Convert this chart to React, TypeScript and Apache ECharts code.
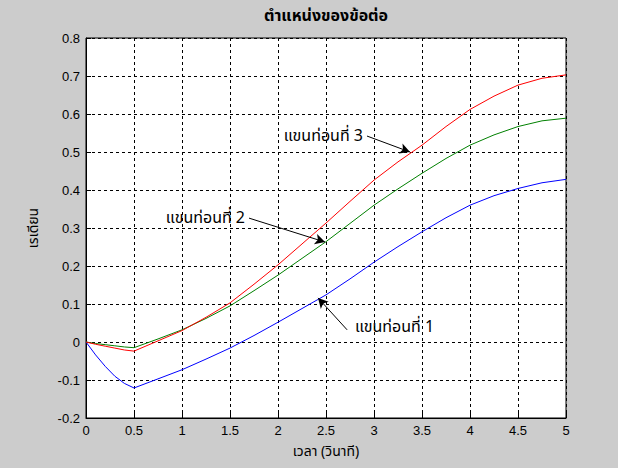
import React, { useEffect, useRef } from "react";
import * as echarts from "echarts";

const timeSec = [0, 0.1, 0.2, 0.3, 0.4, 0.5, 0.75, 1, 1.25, 1.5, 1.75, 2, 2.25, 2.5, 2.75, 3, 3.25, 3.5, 3.75, 4, 4.25, 4.5, 4.75, 5];
const link1 = [0, -0.034, -0.064, -0.09, -0.109, -0.121, -0.097, -0.073, -0.045, -0.016, 0.017, 0.052, 0.088, 0.124, 0.166, 0.21, 0.251, 0.29, 0.327, 0.36, 0.385, 0.404, 0.419, 0.428];
const link2 = [0, -0.004, -0.007, -0.01, -0.013, -0.015, 0.008, 0.032, 0.062, 0.095, 0.135, 0.176, 0.22, 0.264, 0.312, 0.36, 0.403, 0.444, 0.483, 0.518, 0.545, 0.567, 0.582, 0.589];
const link3 = [0, -0.006, -0.011, -0.016, -0.021, -0.024, 0.003, 0.03, 0.065, 0.103, 0.152, 0.203, 0.258, 0.313, 0.37, 0.426, 0.474, 0.518, 0.567, 0.612, 0.647, 0.676, 0.694, 0.703];

const seriesNames = ["แขนท่อนที่ 1", "แขนท่อนที่ 2", "แขนท่อนที่ 3"];
const seriesColors = ["#0000ff", "#008000", "#ff0000"];
// annotation: label anchor [t, v], arrow tail [t, v], arrow tip [t, v]
const labelAnchors = [[2.78, 0.039], [1.677, 0.326], [2.906, 0.542]];
const arrowTails = [[2.72, 0.032], [1.698, 0.326], [2.927, 0.542]];
const arrowTips = [[2.417, 0.116], [2.49, 0.263], [3.375, 0.5]];
const labelSides = ["right", "left", "left"];

const titleText = "ตำแหน่งของข้อต่อ";
const xName = "เวลา (วินาที)";
const yName = "เรเดียน";

const thaiFont = "Tahoma, 'Noto Sans Thai', 'Noto Sans', sans-serif";
const numFont = "Arial, 'Liberation Sans', sans-serif";

export default function App() {
  const ref = useRef<HTMLDivElement>(null);
  useEffect(() => {
    if (!ref.current) return;
    const chart = echarts.init(ref.current, null, { renderer: "svg" });
    const allSeries = [link1, link2, link3];
    const fmt = (v: number) => String(parseFloat(v.toFixed(1)));
    chart.setOption({
      animation: false,
      backgroundColor: "#cccccc",
      grid: { left: 86, right: 52, top: 38, bottom: 50, show: true, backgroundColor: "#ffffff", borderColor: "#000", borderWidth: 1 },
      graphic: [
        { type: "text", x: 326, y: 16, style: { text: titleText, fontFamily: thaiFont, fontSize: 16, fontWeight: "bold", fill: "#000", textAlign: "center", textVerticalAlign: "middle" } },
      ],
      xAxis: {
        type: "value", min: 0, max: 5, interval: 0.5,
        name: xName, nameLocation: "middle", nameGap: 26,
        nameTextStyle: { fontFamily: thaiFont, fontSize: 14, color: "#000" },
        axisLine: { show: true, onZero: false, lineStyle: { color: "#000" } },
        axisTick: { show: true, inside: true, length: 5, lineStyle: { color: "#000" } },
        axisLabel: { fontFamily: numFont, fontSize: 13, color: "#000", margin: 6, formatter: fmt },
        splitLine: { show: true, lineStyle: { color: "#000", type: [3, 3], width: 1 } },
      },
      yAxis: {
        type: "value", min: -0.2, max: 0.8, interval: 0.1,
        name: yName, nameLocation: "middle", nameGap: 46, nameRotate: 90,
        nameTextStyle: { fontFamily: thaiFont, fontSize: 14, color: "#000" },
        axisLine: { show: true, onZero: false, lineStyle: { color: "#000" } },
        axisTick: { show: true, inside: true, length: 5, lineStyle: { color: "#000" } },
        axisLabel: { fontFamily: numFont, fontSize: 13, color: "#000", margin: 6, formatter: fmt },
        splitLine: { show: true, lineStyle: { color: "#000", type: [3, 3], width: 1 } },
      },
      series: allSeries.map((vals, i) => ({
        name: seriesNames[i],
        type: "line",
        showSymbol: false,
        symbol: "none",
        smooth: false,
        lineStyle: { color: seriesColors[i], width: 1 },
        data: timeSec.map((t, k) => [t, vals[k]]),
        markLine: {
          silent: true,
          symbol: ["none", "arrow"],
          symbolSize: [8, 10],
          label: { show: false },
          lineStyle: { color: "#000", width: 1, type: "solid" },
          data: [[{ coord: arrowTails[i] }, { coord: arrowTips[i] }]],
        },
        markPoint: {
          silent: true,
          symbol: "circle",
          symbolSize: 0,
          data: [{ coord: labelAnchors[i] }],
          label: { show: true, position: labelSides[i], distance: 2, formatter: seriesNames[i], fontFamily: thaiFont, fontSize: 16, color: "#000" },
        },
      })),
    });
    return () => chart.dispose();
  }, []);
  return <div ref={ref} style={{ position: "fixed", left: 0, top: 0, width: 618, height: 468 }} />;
}
